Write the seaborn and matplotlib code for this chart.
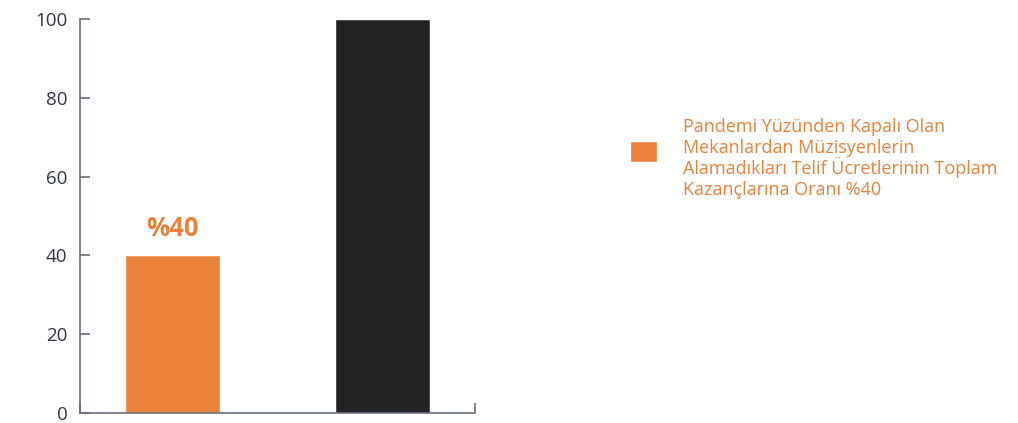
import matplotlib
matplotlib.use("Agg")
import matplotlib.pyplot as plt
import seaborn as sns
import pandas as pd

# data
categories = ["Telif kaybı", "Toplam kazanç"]
values = [40, 100]
bar_colors = ["#EA823B", "#222222"]
value_label = "%40"
legend_lines = ["Pandemi Yüzünden Kapalı Olan",
                "Mekanlardan Müzisyenlerin",
                "Alamadıkları Telif Ücretlerinin Toplam",
                "Kazançlarına Oranı %40"]
yticks = [0, 20, 40, 60, 80, 100]

sns.set_style("white")
plt.rcParams["font.family"] = ["Open Sans", "DejaVu Sans"]

df = pd.DataFrame({"cat": categories, "val": values})

fig = plt.figure(figsize=(10.18, 4.23), dpi=100)
ax = fig.add_axes([0.0786, 0.0236, 0.388, 0.931])

sns.barplot(data=df, x="cat", y="val", hue="cat", palette=bar_colors,
            width=0.45, saturation=1, legend=False, ax=ax)

ax.set_ylim(0, 100)
ax.set_xlim(-0.44, 1.44)
ax.set_yticks(yticks)
ax.set_xticks([-0.44, 1.44])
ax.set_xticklabels([])
ax.set_xlabel("")
ax.set_ylabel("")
ax.tick_params(axis="y", left=True, direction="in", length=7.5, width=1.2,
               color="#6b6f7d", labelsize=13.5, labelcolor="#333848", pad=9)
ax.tick_params(axis="x", bottom=True, direction="in", length=7.5, width=1.2,
               color="#6b6f7d")
for s in ["top", "right"]:
    ax.spines[s].set_visible(False)
for s in ["left", "bottom"]:
    ax.spines[s].set_color("#6b6f7d")
    ax.spines[s].set_linewidth(1.2)

# value label above orange bar
ax.text(0, values[0] + 3.5, value_label, ha="center", va="bottom",
        color=bar_colors[0], fontsize=18.5, fontweight="bold")

# legend square from the orange bar, text lines placed with even spacing
fig.legend(handles=[ax.patches[0]], labels=[""],
           loc="center left", bbox_to_anchor=(0.619, 0.642),
           frameon=False, borderpad=0, borderaxespad=0,
           handlelength=1.6, handleheight=1.6, handletextpad=0, fontsize=12)
y0, dy = 1 - 132 / 423, 21 / 423
for i, line in enumerate(legend_lines):
    fig.text(0.671, y0 - i * dy, line, ha="left", va="baseline",
             color=bar_colors[0], fontsize=13)

fig.savefig("out.png", dpi=100)
